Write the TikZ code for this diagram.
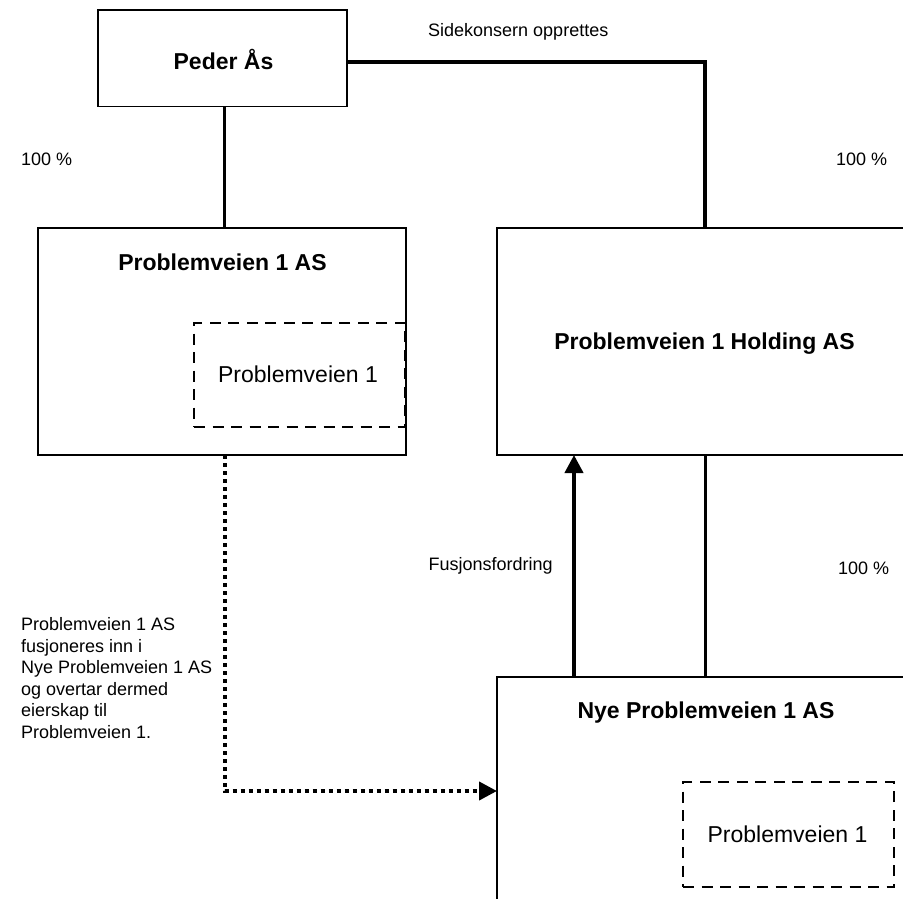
\documentclass[tikz,border=0pt]{standalone}
\usepackage{fontspec}
\setmainfont{Liberation Sans}
\usetikzlibrary{arrows.meta}
\tikzset{
  box/.style={draw=black, line width=1.5pt, fill=white, inner sep=0pt, outer sep=0pt},
  dbox/.style={draw=black, line width=1.5pt, dash pattern=on 11pt off 7.5pt, inner sep=0pt, outer sep=0pt},
  title/.style={font=\bfseries\fontsize{23}{27}\selectfont, inner sep=0pt, anchor=base},
  inner/.style={font=\fontsize{23}{27}\selectfont, inner sep=0pt, anchor=base},
  lbl/.style={font=\fontsize{18}{21.5}\selectfont, inner sep=0pt, anchor=base west},
  conn/.style={draw=black, line width=3pt},
  topconn/.style={draw=black, line width=3.5pt},
  arr/.style={draw=black, line width=4pt, -{Triangle[length=18pt, width=18pt]}},
  dotline/.style={draw=black, line width=4pt, dash pattern=on 4pt off 4pt, -{Triangle[length=18pt, width=18pt]}}
}
\begin{document}
\begin{tikzpicture}[x=1pt, y=-1pt]
\useasboundingbox (0,0) rectangle (903,899);
\clip (0,0) rectangle (903,899);
\fill[white] (0,0) rectangle (903,899);

% boxes
\node[box, minimum width=249pt, minimum height=96.5pt] (peder) at (222.5,58.3) {};
\node[box, minimum width=368pt, minimum height=227pt] (pv1) at (222,341.5) {};
\node[dbox, minimum width=211pt, minimum height=104pt] (pv1d) at (299.5,375) {};
\node[box, minimum width=416pt, minimum height=227pt] (hold) at (705,341.5) {};
\node[box, minimum width=416pt, minimum height=228pt] (nye) at (705,791) {};
\node[dbox, minimum width=211pt, minimum height=105pt] (nyed) at (788.5,834.5) {};

% texts in boxes
\node[title] (pedert) at (223.5,70) {Peder Ås};
\node[title] (pv1t) at (222.5,270) {Problemveien 1 AS};
\node[inner] (pv1dt) at (298,382.7) {Problemveien 1};
\node[title] (holdt) at (704.5,349.5) {Problemveien 1 Holding AS};
\node[title] (nyet) at (706,718) {Nye Problemveien 1 AS};
\node[inner] (nyedt) at (787.5,842.7) {Problemveien 1};

% labels
\node[lbl] (side) at (428,36.7) {Sidekonsern opprettes};
\node[lbl] (p1) at (21,165) {100 \%};
\node[lbl] (p2) at (836,165) {100 \%};
\node[lbl] (fus) at (428.5,570) {Fusjonsfordring};
\node[lbl] (p3) at (838,574) {100 \%};
\node[font=\fontsize{18}{21.5}\selectfont, inner sep=0pt, anchor=north west, align=left] (merge) at (21,617.5)
  {Problemveien 1 AS\\fusjoneres inn i\\Nye Problemveien 1 AS\\og overtar dermed\\eierskap til\\Problemveien 1.};

% connector anchors
\coordinate (vx) at (224.5,0);
\coordinate (ax) at (574,0);

% connectors
\draw[conn] (peder.south -| vx) -- (pv1.north -| vx);
\draw[topconn] ([yshift=-3.7pt]peder.east) -| (hold.north);
\draw[conn] (nye.north) -- (hold.south);
\draw[arr] (nye.north -| ax) -- (hold.south -| ax);
\draw[dotline] (pv1.south -| vx) |- (nye.west);
\end{tikzpicture}
\end{document}
